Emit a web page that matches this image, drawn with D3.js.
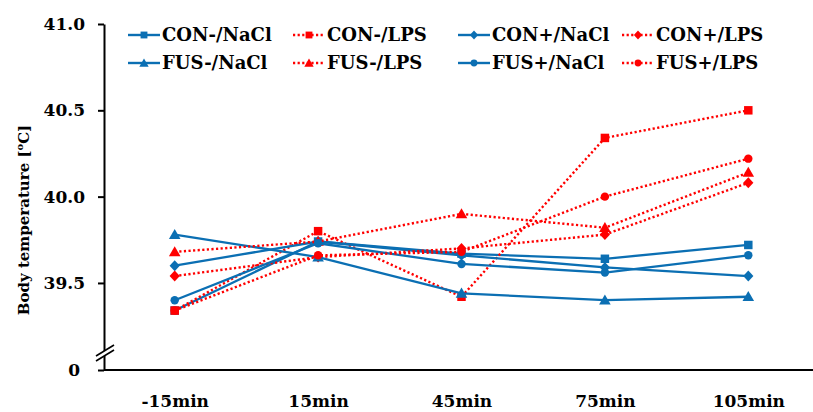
<!DOCTYPE html>
<html>
<head>
<meta charset="utf-8">
<script src="https://cdn.jsdelivr.net/npm/d3@7"></script>
<style>
  body { margin: 0; background: #fff; }
  svg { display: block; }
  .axis text { font-family: "DejaVu Serif", serif; font-weight: bold; font-size: 17px; fill: #000; }
  .axis path, .axis line { stroke: #000; stroke-width: 2px; }
  .legend text { font-family: "DejaVu Serif", serif; font-weight: bold; font-size: 18px; fill: #000; }
</style>
</head>
<body>
<div class="chart"></div>
<script>
'use strict';

// time points
var times = ['-15min', '15min', '45min', '75min', '105min'];

// body temperature per group
var conMinusNacl = [39.34, 39.74, 39.67, 39.64, 39.72];
var conMinusLps  = [39.34, 39.80, 39.42, 40.34, 40.50];
var conPlusNacl  = [39.60, 39.74, 39.66, 39.59, 39.54];
var conPlusLps   = [39.54, 39.65, 39.70, 39.78, 40.08];
var fusMinusNacl = [39.78, 39.65, 39.44, 39.40, 39.42];
var fusMinusLps  = [39.68, 39.74, 39.90, 39.82, 40.14];
var fusPlusNacl  = [39.40, 39.73, 39.61, 39.56, 39.66];
var fusPlusLps   = [39.34, 39.66, 39.68, 40.00, 40.22];

var yTicks = [0, 39.5, 40.0, 40.5, 41.0];

var series = [
    { name: 'CON-/NaCl', values: conMinusNacl, lps: false, shape: 'square' },
    { name: 'CON-/LPS',  values: conMinusLps,  lps: true,  shape: 'square' },
    { name: 'CON+/NaCl', values: conPlusNacl,  lps: false, shape: 'diamond' },
    { name: 'CON+/LPS',  values: conPlusLps,   lps: true,  shape: 'diamond' },
    { name: 'FUS-/NaCl', values: fusMinusNacl, lps: false, shape: 'triangle' },
    { name: 'FUS-/LPS',  values: fusMinusLps,  lps: true,  shape: 'triangle' },
    { name: 'FUS+/NaCl', values: fusPlusNacl,  lps: false, shape: 'circle' },
    { name: 'FUS+/LPS',  values: fusPlusLps,   lps: true,  shape: 'circle' }
];

var width = 813;
var height = 412;
var blue = '#0b6fb3';
var red = '#ff0000';

var svg = d3.select('.chart')
    .append('svg')
    .attr('width', width)
    .attr('height', height);

var x = d3.scalePoint()
    .domain(times)
    .range([103, 820])
    .padding(0.5);

// broken axis: 0 at the bottom, then 39.1 .. 41
var y = d3.scaleLinear()
    .domain([0, 39.1, 41])
    .range([370, 352, 24]);

// diamond = square turned 45 degrees
var symbols = {
    square: d3.symbolSquare,
    diamond: d3.symbolSquare,
    triangle: d3.symbolTriangle,
    circle: d3.symbolCircle
};
var sizes = { square: 72, diamond: 52, triangle: 58, circle: 56 };

function colorOf(s) { return s.lps ? red : blue; }

function markerTransform(s, px, py, k) {
    var t = 'translate(' + px + ',' + py + ')';
    if (s.shape === 'diamond') t += ' scale(1,1.08) rotate(45)';
    if (s.shape === 'triangle') t += ' translate(0,1)';
    return t;
}

// axes
var yAxis = svg.append('g')
    .attr('class', 'axis')
    .attr('transform', 'translate(104,0)')
    .call(d3.axisLeft(y)
        .tickValues(yTicks)
        .tickSize(6)
        .tickSizeOuter(0)
        .tickPadding(13)
        .tickFormat(function (d) { return d === 0 ? '0' : d3.format('.1f')(d); }));
yAxis.selectAll('.tick text')
    .filter(function (d) { return d === 0; })
    .attr('x', -24);

var xAxis = svg.append('g')
    .attr('class', 'axis')
    .attr('transform', 'translate(0,370)')
    .call(d3.axisBottom(x).tickSize(0).tickPadding(25).tickSizeOuter(0));
xAxis.select('.domain').attr('d', 'M104,0H813');

// axis break marks
var brk = svg.append('g').attr('class', 'break');
brk.append('polygon')
    .attr('points', '96,356 114,345 114,350 96,361')
    .attr('fill', '#fff');
brk.selectAll('line')
    .data([0, 5])
    .enter()
    .append('line')
    .attr('x1', 96).attr('x2', 114)
    .attr('y1', function (d) { return 356 + d; })
    .attr('y2', function (d) { return 345 + d; })
    .attr('stroke', '#000')
    .attr('stroke-width', 1.6);

// y title
var title = svg.append('text')
    .attr('transform', 'translate(29,220) rotate(-90)')
    .attr('text-anchor', 'middle')
    .style('font-family', '"DejaVu Serif", serif')
    .style('font-weight', 'bold')
    .style('font-size', '15px');
title.append('tspan').text('Body temperature [');
title.append('tspan').attr('dy', -6).style('font-size', '10px').text('o');
title.append('tspan').attr('dy', 6).text('C]');

// lines and markers
var line = d3.line()
    .x(function (d, i) { return x(times[i]); })
    .y(function (d) { return y(d); });

series.forEach(function (s) {
    var g = svg.append('g');
    g.append('path')
        .attr('d', line(s.values))
        .attr('fill', 'none')
        .attr('stroke', colorOf(s))
        .attr('stroke-width', s.lps ? 2.4 : 2.3)
        .attr('stroke-dasharray', s.lps ? '2.2,2.4' : null);
    g.selectAll('path.marker')
        .data(s.values)
        .enter()
        .append('path')
        .attr('class', 'marker')
        .attr('d', d3.symbol().type(symbols[s.shape]).size(sizes[s.shape]))
        .attr('transform', function (d, i) {
            return markerTransform(s, x(times[i]), y(d));
        })
        .attr('fill', colorOf(s));
});

// legend, 4 columns x 2 rows
var legendX = [128, 293, 458, 622];
var legendY = [35, 63];

var legend = svg.append('g').attr('class', 'legend');
series.forEach(function (s, i) {
    var lx = legendX[i % 4];
    var ly = legendY[Math.floor(i / 4)];
    var item = legend.append('g').attr('transform', 'translate(' + lx + ',' + ly + ')');
    item.append('line')
        .attr('x1', 0).attr('x2', 32)
        .attr('y1', 0).attr('y2', 0)
        .attr('stroke', colorOf(s))
        .attr('stroke-width', 2.4)
        .attr('stroke-dasharray', s.lps ? '2.2,2.4' : null);
    item.append('path')
        .attr('d', d3.symbol().type(symbols[s.shape]).size(sizes[s.shape] * 0.65))
        .attr('transform', markerTransform(s, 16, 0))
        .attr('fill', colorOf(s));
    item.append('text')
        .attr('x', 34)
        .attr('dy', '0.35em')
        .text(s.name);
});
</script>
</body>
</html>
